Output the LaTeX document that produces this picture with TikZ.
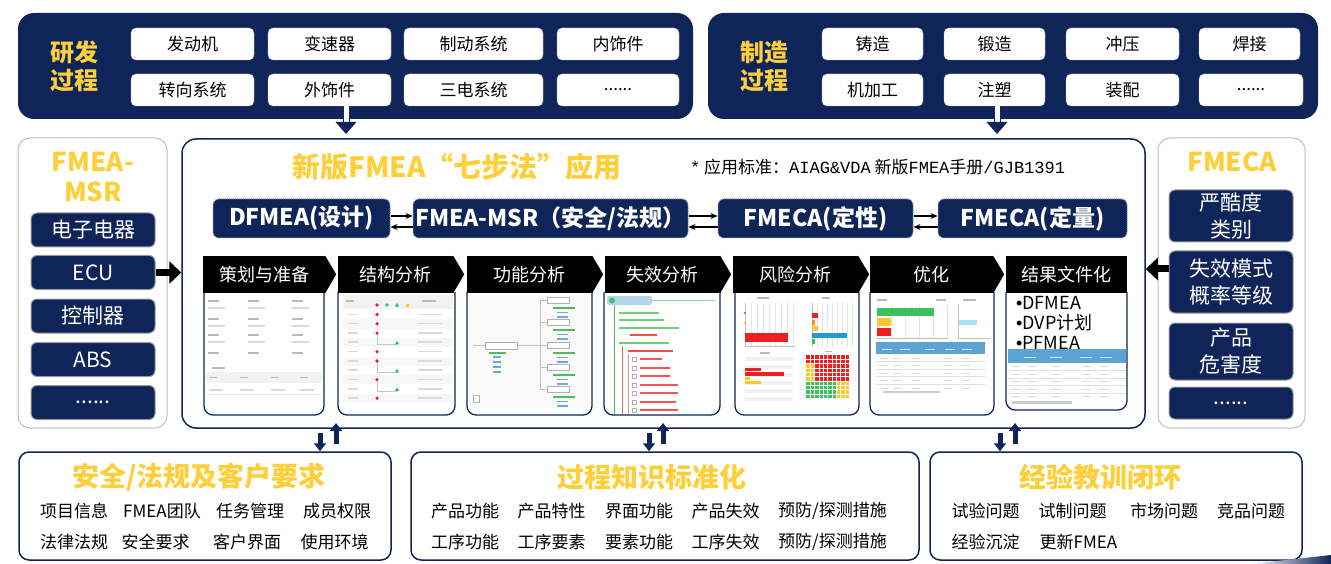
\documentclass[tikz,border=0pt]{standalone}
\usepackage{fontspec}
\setmainfont{Noto Sans CJK SC}
\newfontfamily\monofont{Liberation Mono}
\newfontfamily\latinfont{Liberation Sans}
\usetikzlibrary{arrows.meta}

\definecolor{navy}{HTML}{0F2458}
\definecolor{gold}{HTML}{FFCF3A}
\definecolor{framegray}{HTML}{BFBFBF}
\definecolor{sheetblue}{HTML}{5BA3D0}
\definecolor{riskred}{HTML}{F01E1E}
\definecolor{riskorange}{HTML}{FF8C1A}
\definecolor{riskyellow}{HTML}{FFC72C}
\definecolor{riskgreen}{HTML}{3CC060}
\definecolor{barblue}{HTML}{1E9AD6}
\definecolor{treegreen}{HTML}{4CBF5A}
\definecolor{treeblue}{HTML}{6FA8DC}

\newcommand{\fs}[2]{\fontsize{#1}{#2}\selectfont}
\newcommand{\moredots}{......}

\tikzset{
  darkpanel/.style={fill=navy, rounded corners=16pt, inner sep=0pt},
  whitebox/.style={draw=framegray, fill=white, rounded corners=5pt, minimum height=32pt, inner sep=0pt, font=\fs{17}{17}},
  sidepanel/.style={draw=framegray, line width=1pt, rounded corners=12pt, inner sep=0pt, minimum height=290pt},
  sidebox/.style={draw=gray!80, line width=1pt, fill=navy, rounded corners=6pt, text=white, inner sep=0pt, align=center, minimum width=124pt, font=\fs{21}{27}},
  mainpanel/.style={draw=navy, line width=1.5pt, fill=white, rounded corners=14pt, inner sep=0pt},
  methodbox/.style={fill=navy, draw=navy!45, densely dotted, line width=1pt, rounded corners=6pt, text=white, minimum height=39pt, inner sep=0pt, font=\bfseries\fs{23}{23}},
  stephead/.style={fill=black, text=white, minimum height=37pt, inner sep=0pt, font=\fs{18}{18}},
  shotframe/.style={draw=navy, line width=1.3pt, rounded corners=9pt},
  goldtitle/.style={text=gold, font=\bfseries\fs{27}{27}, inner sep=0pt},
  bottompanel/.style={draw=navy, line width=1.5pt, fill=white, rounded corners=10pt, inner sep=0pt, minimum height=108pt},
  item/.style={font=\fs{17}{17}, inner sep=0pt},
  swap/.style={line width=1.2pt, -{Stealth[length=7pt, width=6pt]}},
  push/.style={line width=7pt, -{Triangle[length=12pt, width=22pt]}},
  feed/.style={navy, line width=5pt, -{Triangle[length=8pt, width=12pt]}},
  ink/.style={fill=gray!55},
  faint/.style={fill=gray!30},
  thinline/.style={gray!50, line width=0.5pt},
}

\begin{document}
\begin{tikzpicture}[x=1pt, y=-1pt]
\useasboundingbox (0,0) rectangle (1331,564);

% top process panels
\node[darkpanel, minimum width=675pt, minimum height=106pt] (devpanel) at (355.5,66) {};
\node[darkpanel, minimum width=610pt, minimum height=106pt] (mfgpanel) at (1013,66) {};
\node[text=gold, font=\bfseries\fs{24}{28}, align=center] (devlabel) at (74,66) {研发\\过程};
\node[text=gold, font=\bfseries\fs{24}{28}, align=center] (mfglabel) at (764,66) {制造\\过程};
\foreach \n/\cx/\cy/\w/\t in {eng/192.5/44/123/发动机, gear/329.5/44/123/变速器,
    brake/473.5/44/139/制动系统, trim/618/44/122/内饰件, steer/192.5/90/123/转向系统,
    ext/329.5/90/123/外饰件, elec/473.5/90/139/三电系统, devmore/618/90/122/\moredots}
  \node[whitebox, minimum width=\w pt] (\n) at (\cx,\cy) {\t};
\foreach \n/\cx/\cy/\w/\t in {cast/872.5/44/101/铸造, forge/994.5/44/101/锻造,
    stamp/1122.5/44/113/冲压, weld/1249.5/44/101/焊接, mach/872.5/90/101/机加工,
    mold/994.5/90/101/注塑, assy/1122.5/90/113/装配, mfgmore/1251/90/104/\moredots}
  \node[whitebox, minimum width=\w pt] (\n) at (\cx,\cy) {\t};

% side panels
\node[sidepanel, minimum width=149pt] (msrside) at (92.5,283) {};
\node[sidepanel, minimum width=147pt] (fmecaside) at (1231.5,283) {};
\node[goldtitle, font=\bfseries\fs{26}{30}, align=center] (msrtitle) at (93,177) {FMEA-\\MSR};
\node[goldtitle, font=\bfseries\fs{26}{30}] (fmecatitle) at (1232,162) {FMECA};
\foreach \n/\cy/\t in {ee/230/电子电器, ecu/272.5/ECU, ctrl/316/控制器, abs/359.5/ABS, msrmore/402.5/\moredots}
  \node[sidebox, minimum height=34pt] (\n) at (93,\cy) {\t};
\foreach \n/\cy/\h/\t in {sev/216/52/严酷度\\类别, rate/282/62/失效模式\\概率等级,
    haz/351.5/57/产品\\危害度, fmecamore/403/32/\moredots}
  \node[sidebox, minimum height=\h pt] (\n) at (1231,\cy) {\t};

% main panel
\node[mainpanel, minimum width=963pt, minimum height=289pt] (main) at (663.5,283.5) {};
\node[goldtitle, font=\bfseries\fs{28}{28}, anchor=west] (maintitle) at (292,167) {新版FMEA“七步法”应用};
\node[anchor=west, font=\fs{17}{17}, inner sep=0pt] (standard) at (690,167)
  {{\monofont *} 应用标准：{\monofont AIAG\&VDA} 新版{\monofont FMEA}手册{\monofont /GJB1391}};

\node[methodbox, minimum width=177pt] (dfmea) at (301.5,218.5) {DFMEA(设计)};
\node[methodbox, minimum width=275pt] (msr) at (550.5,218.5) {FMEA-MSR（安全/法规）};
\node[methodbox, minimum width=195pt] (fmecaq) at (815.5,218.5) {FMECA(定性)};
\node[methodbox, minimum width=189pt] (fmecan) at (1032.5,218.5) {FMECA(定量)};
\foreach \a/\b in {dfmea/msr, msr/fmecaq, fmecaq/fmecan} {
  \draw[swap] ([yshift=2.5pt]\a.east) -- ([yshift=2.5pt]\b.west);
  \draw[swap] ([yshift=-8.5pt]\b.west) -- ([yshift=-8.5pt]\a.east);
}

% panel 1: planning form
\foreach \y in {300,318,334} \foreach \x in {208,248,292} {
  \fill[ink] (\x,\y) rectangle ++(11,2);
  \fill[faint] (\x,\y+7) rectangle ++(17,1.6);
}
\foreach \x in {208,248,292} \fill[ink] (\x,352) rectangle ++(11,2);
\fill[ink] (212,367) rectangle ++(13,2);
\fill[gray!10] (206,372) rectangle (322,383);
\foreach \x in {209,240,271,300} {
  \fill[ink] (\x,376.5) rectangle ++(8,1.6);
  \fill[faint] (\x,389) rectangle ++(14,1.6);
}
\draw[gray!20] (206,394) -- (322,394);

% panel 2: structure table
\fill[gray!10] (343,295) rectangle (453,309);
\foreach \i in {1,3,5,7,9} \fill[gray!6] (343,{310+9.3*\i}) rectangle (453,{319.3+9.3*\i});
\foreach \i in {0,...,9} {
  \fill[faint] (348,{313.5+9.3*\i}) rectangle ++(10,1.6);
  \fill[faint] (418,{313.5+9.3*\i}) rectangle ++(24,1.6);
}
\foreach \a/\b in {2/3, 5/6, 7/8} \draw[gray!45, line width=0.4pt] (377,{314.5+9.3*\a}) |- (397,{316.5+9.3*\b});
\foreach \i in {0,1,2,4,5,7,9} \fill[riskred] (377,{314.5+9.3*\i}) circle (1.8);
\foreach \i in {3,6,8} \fill[barblue!70!green] (397,{313+9.3*\i}) -- ++(2,3.5) -- ++(-4,0) -- cycle;
\fill[ink] (346,300) rectangle ++(8,1.6);
\fill[ink] (422,300) rectangle ++(14,1.6);
\fill[riskred] (377,305) circle (1.8);
\fill[riskgreen] (387,305) circle (1.8);
\fill[barblue!70!green] (397,303) -- ++(2,3.5) -- ++(-4,0) -- cycle;
\fill[riskyellow] (405.5,303.5) rectangle ++(3.5,3.5);

% panel 3: function tree
\fill[gray!5] (470,296) rectangle (590,408);
\draw[thinline] (540,300) -- (540,389);
\foreach \y in {300,322,345,367,389} {
  \draw[thinline] (540,\y) -- (547,\y);
  \draw[gray!60, line width=0.4pt, fill=white] (547,\y-3) rectangle (569,\y+3);
  \fill[treegreen] (553,\y+7) rectangle ++(22,1.5);
  \fill[treeblue] (557,\y+11.5) rectangle ++(11,1.5);
  \fill[treeblue] (557,\y+16) rectangle ++(11,1.5);
}
\draw[thinline] (473,345.5) -- (540,345.5);
\draw[gray!60, line width=0.4pt, fill=white] (485,342) rectangle (517,349);
\fill[treegreen] (489,352) rectangle ++(17,1.5);
\foreach \y in {356,361,366,371} \fill[treeblue] (493,\y) rectangle ++(8,1.5);
\draw[gray!60, line width=0.4pt] (473,395) rectangle (479,402);

% panel 4: failure tree
\fill[sheetblue!45, rounded corners=2pt] (607,296) rectangle (652,305);
\fill[treegreen] (612,300.5) circle (3);
\draw[sheetblue!60, line width=0.6pt] (652,300.5) -- (715,300.5);
\draw[treegreen, line width=0.7pt] (614,305) -- (614,415);
\foreach \y/\w in {312/40, 319/45, 327/60, 342/50} \fill[treegreen!80] (619,\y) rectangle ++(\w,1.6);
\fill[riskred!80] (630,334) rectangle ++(27,1.6);
\fill[riskred!80] (628,350) rectangle ++(45,1.6);
\draw[riskred!70, line width=0.6pt] (622,346) -- (622,415);
\draw[riskred!50, line width=0.5pt] (628,354) -- (628,415);
\foreach \y/\w in {359/22, 368/30, 376/30, 385/38, 393/38, 402/36, 410/38} {
  \draw[gray!60, line width=0.4pt] (632,\y-2) rectangle ++(4,4);
  \fill[riskred!75] (640,\y-0.8) rectangle ++(\w,1.6);
}

% panel 5: risk charts
\fill[ink] (757,297) rectangle ++(12,1.6);
\foreach \x in {745,751,...,793} \draw[gray!20, line width=0.3pt] (\x,303) -- (\x,346);
\draw[gray!50, line width=0.4pt] (745,303) -- (745,346) -- (795,346);
\fill[riskred] (745,333) rectangle (788,342);
\fill[riskgreen] (744,312) rectangle ++(2,1.5);
\fill[riskyellow] (744,322) rectangle ++(2,1.5);
\fill[ink] (822,297) rectangle ++(8,1.6);
\foreach \x in {812,817,...,852} \draw[gray!20, line width=0.3pt] (\x,303) -- (\x,347);
\draw[gray!50, line width=0.4pt] (812,303) -- (812,347);
\fill[riskred] (812,313) rectangle (818,318);
\fill[riskorange] (812,319.5) rectangle (815,324.5);
\fill[riskyellow] (812,326) rectangle (818,331);
\fill[barblue] (812,332.5) rectangle (847,337.5);
\fill[riskgreen] (812,339) rectangle (815,344);
\fill[ink] (760,352) rectangle ++(10,1.6);
\foreach \y in {357,365,...,397} \fill[gray!10] (745,\y) rectangle (793,\y+4);
\fill[riskred] (745,368) rectangle (761,371);
\fill[riskred] (745,372) rectangle (784,375.5);
\fill[riskyellow] (745,377) rectangle (750,379.5);
\fill[riskyellow] (745,380.5) rectangle (761,383.5);
\fill[ink] (825,351) rectangle ++(7,1.4);
\fill[riskred] (806,355) rectangle (849,381);
\fill[riskyellow] (806,363) rectangle (814.5,381);
\fill[riskgreen] (806,381) rectangle (837,398);
\fill[riskyellow] (837,381) rectangle (849,398);
\foreach \k in {1,...,9} {
  \draw[white, line width=0.3pt] ({806+4.3*\k},355) -- ({806+4.3*\k},398);
  \draw[white, line width=0.3pt] (806,{355+4.3*\k}) -- (849,{355+4.3*\k});
}

% panel 6: optimisation
\fill[ink] (877,299) rectangle ++(10,1.6);
\fill[ink] (936,299) rectangle ++(10,1.6);
\fill[ink] (963,299) rectangle ++(13,1.6);
\foreach \x in {877,891,...,947} \draw[gray!20, line width=0.3pt] (\x,305) -- (\x,338);
\fill[riskgreen] (877,308) rectangle (934,316);
\fill[riskyellow] (877,318) rectangle (891,326);
\fill[riskred] (877,328) rectangle (891,336);
\draw[gray!50, line width=0.4pt] (877,338) -- (948,338);
\draw[gray!50, line width=0.4pt] (958,305) -- (958,338) -- (990,338);
\fill[cyan!35] (959,320) rectangle (977,325);
\fill[sheetblue] (876,342) rectangle (985,354);
\foreach \x in {882,900,925,945,962} \fill[white!75!sheetblue] (\x,349) rectangle ++(10,1.4);
\foreach \y in {361.5,369,376.5,384} \draw[gray!25, line width=0.4pt] (876,\y) -- (985,\y);
\foreach \y in {356,363.5,371,378.5,386} \foreach \x in {880,893,912,944,962}
  \fill[faint] (\x,\y+1.5) rectangle ++(8,1.4);
\fill[gray!40] (883,391) rectangle (940,393);

% panel 7: result documents
\foreach \n/\cy/\t in {dfmeadoc/303/DFMEA, dvpdoc/323/DVP计划, pfmeadoc/343/PFMEA}
  \node[anchor=west, font=\fs{18}{18}, inner sep=0pt] (\n) at (1016,\cy) {{\latinfont •}\t};
\fill[sheetblue] (1008,349) rectangle (1126,363);
\foreach \x in {1024,1050,1080,1100} \fill[white!75!sheetblue] (\x,357) rectangle ++(12,1.4);
\foreach \y in {370.5,378,385.5,393} \draw[gray!25, line width=0.4pt] (1008,\y) -- (1126,\y);
\foreach \y in {363,370.5,378,385.5,393} \foreach \x in {1012,1028,1052,1082,1100}
  \fill[faint] (\x,\y+3) rectangle ++(9,1.4);
\fill[gray!40] (1012,401) rectangle (1072,403.5);

% frames under the step headers
\foreach \xa/\xb/\yb in {204/324/415, 338/455/415, 467/592/415, 604/720/415,
    735/859/415, 870/994/415, 1006/1127/410}
  \draw[shotframe] (\xa,292) -- (\xa,\yb) -- (\xb,\yb) -- (\xb,292);

% seven steps
\foreach \n/\cx/\w/\t in {s1/264/122/策划与准备, s2/395.5/115/结构分析, s3/529.5/125/功能分析,
    s4/662.5/115/失效分析, s5/795.5/125/风险分析, s6/931.5/123/优化, s7/1066.5/121/结果文件化}
  \node[stephead, minimum width=\w pt] (\n) at (\cx,274.5) {\t};
\foreach \n in {s1,s2,s3,s4,s5,s6}
  \fill (\n.north east) -- ++(11,18.5) -- (\n.south east) -- cycle;

% arrows into the main panel
\coordinate (devdrop) at (346,106);
\coordinate (mfgdrop) at (997,106);
\foreach \d in {devdrop, mfgdrop} {
  \draw[navy, line width=1pt, double=white, double distance=5pt] (\d) -- ++(0,17);
  \fill[navy] ([xshift=-10.5pt, yshift=-16pt]\d) -- ++(21,0) -- ++(-10.5,12) -- cycle;
}
\draw[push] (ecu.east) -- (ecu.east -| main.west);
\coordinate (ratetail) at ([yshift=13pt]rate.west);
\draw[push] (ratetail) -- (ratetail -| main.east);

% bottom panels
\node[bottompanel, minimum width=372pt] (safety) at (205,506) {};
\node[bottompanel, minimum width=508pt] (process) at (665,506) {};
\node[bottompanel, minimum width=372pt] (lesson) at (1116,506) {};
\node[goldtitle] (safetytitle) at (199,477) {安全/法规及客户要求};
\node[goldtitle] (processtitle) at (652,477) {过程知识标准化};
\node[goldtitle] (lessontitle) at (1100,477) {经验教训闭环};
\foreach \cx/\cy/\t in {74/511/项目信息, 162/511/FMEA团队, 250/511/任务管理, 337/511/成员权限,
    74/542/法律法规, 155.5/542/安全要求, 247/542/客户界面, 334.5/542/使用环境,
    465/511/产品功能, 551.5/511/产品特性, 639/511/界面功能, 725.5/511/产品失效, 832.5/511/{预防/探测措施},
    465/542/工序功能, 551.5/542/工序要素, 639/542/要素功能, 725.5/542/工序失效, 832.5/542/{预防/探测措施},
    985.5/511/试验问题, 1072.5/511/试制问题, 1164/511/市场问题, 1251/511/竞品问题,
    985.5/542/经验沉淀, 1078.5/542/更新FMEA}
  \node[item] at (\cx,\cy) {\t};

\foreach \d/\u/\p in {320/336/safety, 649/663/process, 1000/1015/lesson} {
  \coordinate (down) at (\d,433);
  \coordinate (up) at (\u,444);
  \coordinate (uptip) at (\u,423);
  \draw[feed] (down) -- (down |- \p.north);
  \draw[feed] (up) -- (uptip);
}

\shade[left color=white, right color=navy] (1250,564) -- (1331,555) -- (1331,564) -- cycle;
\end{tikzpicture}
\end{document}
